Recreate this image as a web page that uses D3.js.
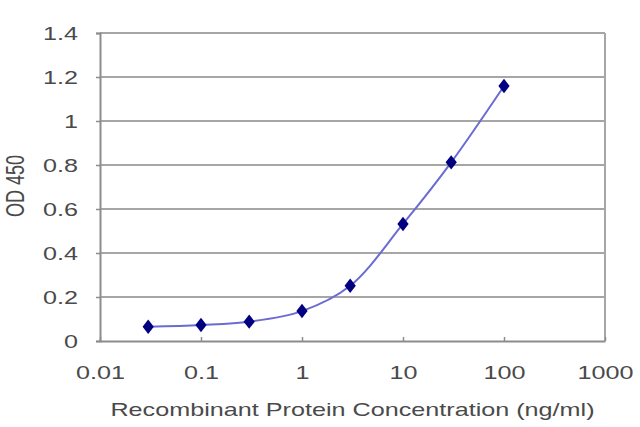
<!DOCTYPE html>
<html>
<head>
<meta charset="utf-8">
<script src="https://cdn.jsdelivr.net/npm/d3@7"></script>
<style>
  body { margin: 0; background: #fff; }
  svg text { font-family: "Liberation Sans", Arial, sans-serif; fill: #4a4a4a; }
</style>
</head>
<body>
<div id="chart"></div>
<script>
'use strict';

// concentration (ng/ml) and OD 450
const concentrations = [0.03, 0.1, 0.3, 1, 3, 10, 30, 100];
const odValues = [0.065, 0.073, 0.088, 0.136, 0.251, 0.532, 0.812, 1.159];
const xTickValues = [0.01, 0.1, 1, 10, 100, 1000];
const xTickLabels = ['0.01', '0.1', '1', '10', '100', '1000'];
const yTickValues = [0, 0.2, 0.4, 0.6, 0.8, 1, 1.2, 1.4];
const yTickLabels = ['0', '0.2', '0.4', '0.6', '0.8', '1', '1.2', '1.4'];

const width = 640;
const height = 427;
const margin = {top: 33, right: 35, bottom: 86, left: 100};
const innerW = width - margin.left - margin.right;
const innerH = height - margin.top - margin.bottom;
const stretch = 1.4; // the picture is squeezed wide, text included

const svg = d3.select('#chart').append('svg')
    .attr('width', width)
    .attr('height', height);

const g = svg.append('g')
    .attr('transform', 'translate(' + margin.left + ',' + margin.top + ')');

const xScale = d3.scaleLog()
  .domain([0.01, 1000])
  .range([0, innerW]);

const yScale = d3.scaleLinear()
  .domain([0, 1.4])
  .range([innerH, 0]);

// gridlines
g.append('g')
  .selectAll('line')
  .data(yTickValues.slice(1))
  .enter()
  .append('line')
    .attr('x1', 0)
    .attr('x2', innerW)
    .attr('y1', d => yScale(d))
    .attr('y2', d => yScale(d))
    .attr('stroke', '#a6a6a6')
    .attr('stroke-width', 2);

// right border
g.append('line')
  .attr('x1', innerW).attr('x2', innerW)
  .attr('y1', 0).attr('y2', innerH)
  .attr('stroke', '#a6a6a6')
  .attr('stroke-width', 2);

// y axis
const yAxis = d3.axisLeft(yScale)
  .tickValues(yTickValues)
  .tickSize(4)
  .tickPadding(22)
  .tickFormat((d, i) => yTickLabels[i]);

const yAxisG = g.append('g').call(yAxis);
yAxisG.select('.domain').attr('stroke', '#8c8c8c').attr('stroke-width', 2);
yAxisG.selectAll('.tick line').attr('stroke', '#8c8c8c').attr('stroke-width', 1.5);
yAxisG.selectAll('.tick text')
  .attr('font-size', 18)
  .attr('x', 0)
  .attr('dy', '0.36em')
  .attr('text-anchor', 'end')
  .attr('transform', 'translate(-22,0) scale(' + stretch + ',1)');

// x axis
const xAxis = d3.axisBottom(xScale)
  .tickValues(xTickValues)
  .tickSize(0)
  .tickPadding(0)
  .tickFormat((d, i) => xTickLabels[i]);

const xAxisG = g.append('g')
  .attr('transform', 'translate(0,' + innerH + ')')
  .call(xAxis);
xAxisG.select('.domain').attr('stroke', '#8c8c8c').attr('stroke-width', 2);
xAxisG.selectAll('.tick line')
  .attr('y2', -4)
  .attr('stroke', '#8c8c8c')
  .attr('stroke-width', 1.5);
xAxisG.selectAll('.tick text')
  .attr('font-size', 18)
  .attr('y', 0)
  .attr('dy', '0.36em')
  .attr('text-anchor', 'middle')
  .attr('transform', 'translate(0,32) scale(' + stretch + ',1)');

// axis titles
svg.append('text')
  .attr('font-size', 18)
  .attr('text-anchor', 'middle')
  .attr('transform', 'translate(' + (margin.left + innerW / 2) + ',416) scale(' + stretch + ',1)')
  .text('Recombinant Protein Concentration (ng/ml)');

svg.append('text')
  .attr('font-size', 18)
  .attr('text-anchor', 'middle')
  .attr('transform', 'translate(24,' + (margin.top + innerH / 2 - 1) + ') scale(' + stretch + ',1) rotate(-90)')
  .text('OD 450');

// series
const points = concentrations.map((c, i) => [c, odValues[i]]);

const line = d3.line()
  .x(d => xScale(d[0]))
  .y(d => yScale(d[1]))
  .curve(d3.curveCatmullRom.alpha(0.5));

g.append('path')
  .datum(points)
  .attr('fill', 'none')
  .attr('stroke', '#6b6bd2')
  .attr('stroke-width', 2)
  .attr('d', line);

const diamond = d3.symbol().type(d3.symbolDiamond).size(60);

g.selectAll('.marker')
  .data(points)
  .enter()
  .append('path')
    .attr('class', 'marker')
    .attr('d', diamond)
    .attr('fill', '#000080')
    .attr('transform', d => 'translate(' + xScale(d[0]) + ',' + yScale(d[1]) + ') scale(1.35,1)');
</script>
</body>
</html>
